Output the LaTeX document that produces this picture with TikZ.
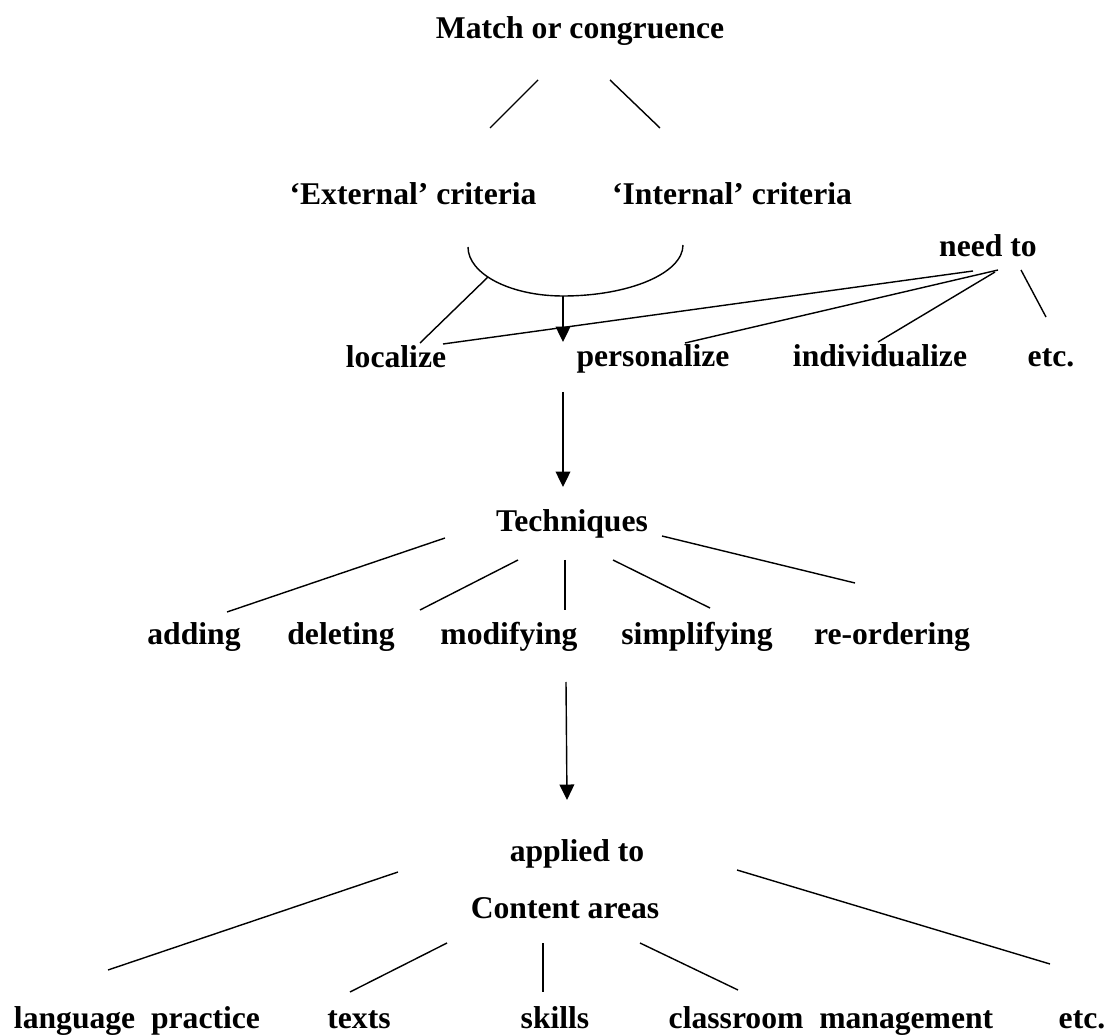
\documentclass[tikz,border=0pt]{standalone}
\usepackage{fontspec}
\setmainfont{Liberation Serif}
\usetikzlibrary{arrows.meta, calc}

\begin{document}
\begin{tikzpicture}[x=0.025cm, y=-0.025cm, line width=1pt,
  lbl/.style={anchor=base, inner sep=0pt, font=\bfseries\fontsize{22.5}{27}\selectfont},
  arr/.style={-{Triangle[length=11pt, width=10.5pt]}}]
\useasboundingbox (0,0) rectangle (1107,1036);

% Match or congruence
\node[lbl] (match) at (580,39) {Match or congruence};
\node[lbl] (ext) at (413,205) {`External' criteria};
\node[lbl] (int) at (732,205) {`Internal' criteria};
\draw ($(match.base)+(-42,41)$) -- ($(ext.base)+(77,-77)$);
\draw ($(match.base)+(30,41)$) -- ($(int.base)+(-72,-77)$);

% bracket under both criteria
\coordinate (join) at (563,296);
\draw (468,247) arc[start angle=180, end angle=90, x radius=95, y radius=49]
  arc[start angle=90, end angle=0, x radius=120, y radius=51];
\draw[arr] (join) -- ++(0,46);

% need to
\node[lbl] (needto) at (988,257) {need to};
\node[lbl] (loc) at (396,368) {localize};
\node[lbl] (pers) at (653,367) {personalize};
\node[lbl] (indiv) at (880,367) {individualize};
\node[lbl] (etcA) at (1051,367) {etc.};
\draw ($(join)+(-75,-19)$) -- ($(loc.base)+(24,-25)$);
\draw ($(needto.base)+(-15,14)$) -- ($(loc.base)+(47,-24)$);
\draw ($(needto.base)+(10,13)$) -- ($(pers.base)+(32,-24)$);
\draw ($(needto.base)+(7,15)$) -- ($(indiv.base)+(-2,-25)$);
\draw ($(needto.base)+(33,13)$) -- ($(etcA.base)+(-5,-50)$);

% Techniques
\node[lbl] (tech) at (572,532) {Techniques};
\draw[arr] ($(tech.base)+(-9,-140)$) -- ($(tech.base)+(-9,-45)$);
\node[lbl] (add) at (194,645) {adding};
\node[lbl] (del) at (341,645) {deleting};
\node[lbl] (mod) at (509,645) {modifying};
\node[lbl] (simp) at (697,645) {simplifying};
\node[lbl] (reord) at (892,645) {re-ordering};
\draw ($(tech.base)+(-127,6)$) -- ($(add.base)+(33,-33)$);
\draw ($(tech.base)+(-54,28)$) -- ($(del.base)+(79,-35)$);
\draw ($(tech.base)+(-7,28)$) -- ($(mod.base)+(56,-35)$);
\draw ($(tech.base)+(41,28)$) -- ($(simp.base)+(13,-37)$);
\draw ($(tech.base)+(90,4)$) -- ($(reord.base)+(-37,-62)$);

% Content areas
\node[lbl] (applied) at (577,861) {applied to};
\node[lbl] (content) at (565,918) {Content areas};
\draw[arr] ($(applied.base)+(-11,-179)$) -- ($(applied.base)+(-10,-61)$);
\node[lbl] (lang) at (137,1028) {language\ \ practice};
\node[lbl] (texts) at (359,1028) {texts};
\node[lbl] (skills) at (555,1028) {skills};
\node[lbl] (class) at (831,1028) {classroom\ \ management};
\node[lbl] (etcB) at (1082,1028) {etc.};
\draw ($(applied.base)+(-179,11)$) -- ($(lang.base)+(-29,-58)$);
\draw ($(content.base)+(-118,25)$) -- ($(texts.base)+(-9,-36)$);
\draw ($(content.base)+(-22,25)$) -- ($(skills.base)+(-12,-36)$);
\draw ($(content.base)+(75,25)$) -- ($(class.base)+(-93,-38)$);
\draw ($(applied.base)+(160,9)$) -- ($(etcB.base)+(-32,-64)$);
\end{tikzpicture}
\end{document}
